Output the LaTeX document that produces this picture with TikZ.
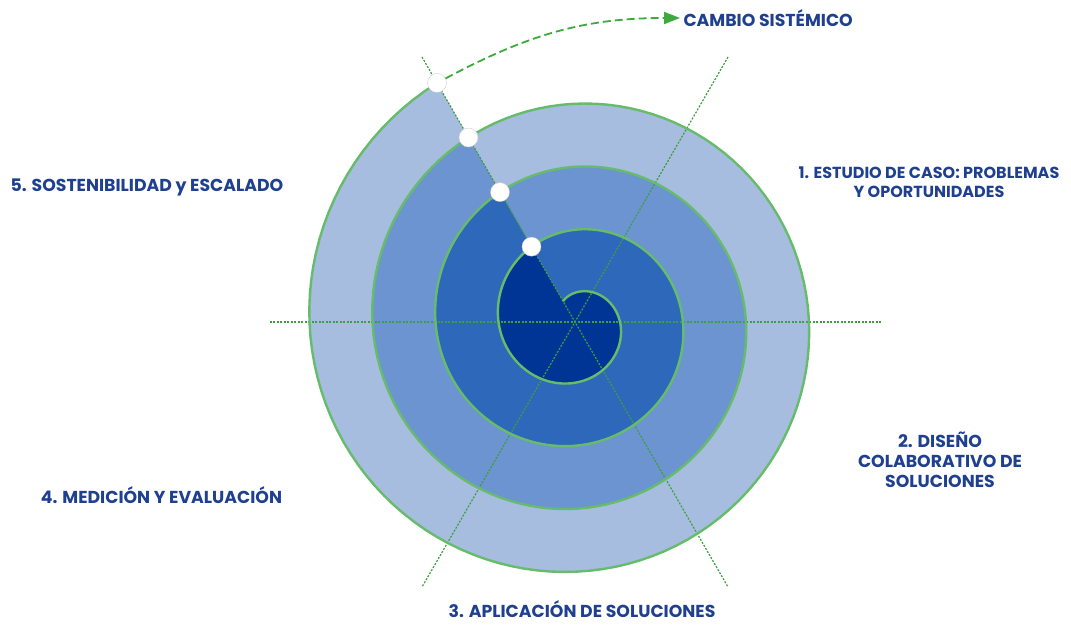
\documentclass[tikz,border=0pt]{standalone}
\usepackage{fontspec}
\setmainfont{Poppins}
\usetikzlibrary{arrows.meta,positioning}

\definecolor{ringA}{HTML}{003596}
\definecolor{ringB}{HTML}{2E68BA}
\definecolor{ringC}{HTML}{6C94D0}
\definecolor{ringD}{HTML}{A7BDE0}
\definecolor{spiralgreen}{HTML}{66BC6A}
\definecolor{axisgreen}{HTML}{3E9E3E}
\definecolor{arrowgreen}{HTML}{3DAA3D}
\definecolor{labelblue}{HTML}{1F3F8F}

\begin{document}
\begin{tikzpicture}[x=1pt, y=1pt, every node/.style={text=labelblue, font=\bfseries\fontsize{17.3}{20}\selectfont, align=center}]
    \useasboundingbox (-575,-302) rectangle (496,322);
    % turns of the spiral, outside first
    \foreach \a/\b/\col in {1080/1440/ringD,720/1080/ringC,360/720/ringB,0/360/ringA}
    \fill[\col] plot[domain=\a:\b, samples=120, variable=\t] 
    ({120-\t}:{24+0.175*\t}) -- cycle;
    \foreach \ang in {0,60,120}
    \draw[axisgreen, line width=1.2, dash pattern=on 2pt off 1.5pt] 
    (\ang:306) -- (\ang+180:306);
    \draw[spiralgreen, line width=2.4] plot[domain=0:1440, samples=480, variable=\t] 
    ({120-\t}:{24+0.175*\t});
    \foreach \r [count=\i] in {87,150,213,276}
    \node[circle, draw=gray!40, fill=white, inner sep=0pt, minimum size=19pt] (mark\i) at (120:\r) {};
    % Way out
    \node[anchor=west] (cambio) at (105,304) {CAMBIO SISTÉMICO};
    \draw[arrowgreen, line width=1.8, dash pattern=on 8pt off 4pt, -{Triangle[length=16pt,width=12pt]}] 
    (mark4) to[out=28, in=180] (cambio.west);
    \node[font=\bfseries\fontsize{16}{19}\selectfont] (step1) at (354,139.5) {1. ESTUDIO DE CASO: PROBLEMAS\\Y OPORTUNIDADES};
    \node (step2) at (365,-138) {2. DISEÑO\\COLABORATIVO DE\\SOLUCIONES};
    \node[inner sep=1pt] (step3) at (7,-287) {3. APLICACIÓN DE SOLUCIONES};
    \node (step4) at (-413.5,-173) {4. MEDICIÓN Y EVALUACIÓN};
    \node (step5) at (-428,135) {5. SOSTENIBILIDAD y ESCALADO};
\end{tikzpicture}
\end{document}
